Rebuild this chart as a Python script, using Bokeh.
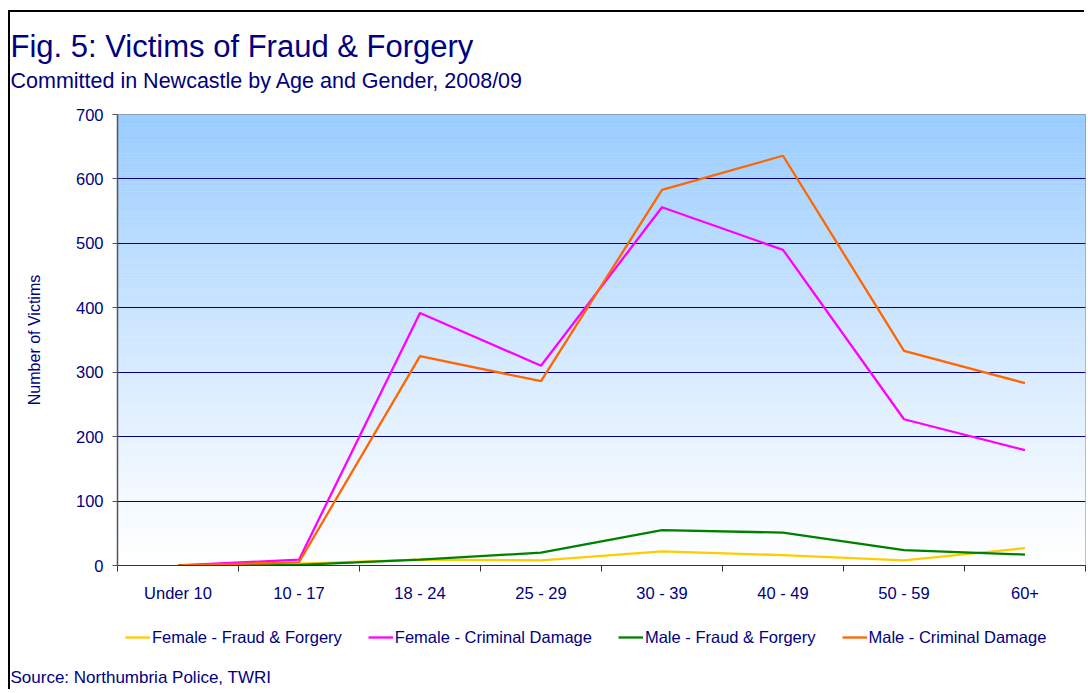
import numpy as np
from bokeh.plotting import figure
from bokeh.layouts import column
from bokeh.models import FixedTicker, Range1d, Legend, LegendItem, Title
from bokeh.embed import file_html
from bokeh.resources import INLINE

categories = ["Under 10", "10 - 17", "18 - 24", "25 - 29", "30 - 39", "40 - 49", "50 - 59", "60+"]
female_fraud = [0, 3, 9, 8, 22, 16, 8, 27]
female_damage = [0, 9, 392, 310, 556, 490, 227, 179]
male_fraud = [0, 1, 9, 20, 55, 51, 24, 17]
male_damage = [0, 5, 325, 286, 583, 636, 333, 283]
y_ticks = [0, 100, 200, 300, 400, 500, 600, 700]

series_names = ["Female - Fraud & Forgery", "Female - Criminal Damage",
                "Male - Fraud & Forgery", "Male - Criminal Damage"]
series_values = [female_fraud, female_damage, male_fraud, male_damage]
series_colors = ["#FFCC00", "#FF00FF", "#008000", "#FF6600"]

FONT = "Liberation Sans"
NAVY = "#000080"

xs = [i + 0.5 for i in range(len(categories))]

W = 1076
FL = 107


def blank(height, top, bottom):
    f = figure(width=W, height=height, output_backend="svg", toolbar_location=None,
               title_location=None, x_axis_type=None, y_axis_type=None,
               x_range=Range1d(0, 1), y_range=Range1d(0, 1),
               min_border_left=FL, min_border_right=1, min_border_top=top,
               min_border_bottom=bottom)
    f.outline_line_color = None
    f.grid.visible = False
    f.background_fill_color = "white"
    f.border_fill_color = "white"
    return f


# ---- header strip: title + subtitle
p0 = blank(87, 51, 33)
p0.add_layout(Title(text="Fig. 5: Victims of Fraud & Forgery", text_font=FONT,
                    text_font_size="31px", text_font_style="normal", text_color=NAVY,
                    align="left", offset=-FL, standoff=0), "above")
p0.add_layout(Title(text="Committed in Newcastle by Age and Gender, 2008/09", text_font=FONT,
                    text_font_size="21.5px", text_font_style="normal", text_color=NAVY,
                    align="left", offset=-FL, standoff=0), "below")

# ---- main chart
H1 = 516
p = figure(width=W, height=H1, output_backend="svg", toolbar_location=None,
           title_location=None, x_range=Range1d(0, len(categories)), y_range=Range1d(0, 700),
           min_border_left=FL, min_border_right=1, min_border_top=15, min_border_bottom=50)
p.background_fill_color = "white"
p.border_fill_color = "white"
p.outline_line_color = "#808080"

# vertical gradient background
n = 140
edges = np.linspace(0, 700, n + 1)
bots = edges[:-1]
tops = edges[1:]
cols = []
for b, t in zip(bots, tops):
    f = ((b + t) / 2 / 700) ** 1.15
    r = int(round(255 - (255 - 153) * f))
    g = int(round(255 - (255 - 204) * f))
    cols.append("#%02x%02x%02x" % (r, g, 255))
p.quad(left=0, right=len(categories), bottom=bots, top=tops, fill_color=cols,
       line_color=cols, line_width=0.6, level="image")

p.ygrid.ticker = FixedTicker(ticks=y_ticks[1:-1])
p.ygrid.grid_line_color = NAVY
p.ygrid.grid_line_width = 1
p.xgrid.visible = False

for vals, c in zip(series_values, series_colors):
    p.line(xs, vals, line_color=c, line_width=2.3)

p.xaxis.ticker = FixedTicker(ticks=xs, minor_ticks=list(range(len(categories) + 1)))
p.xaxis.major_label_overrides = {x: c for x, c in zip(xs, categories)}
p.xaxis.major_tick_out = 0
p.xaxis.major_tick_in = 0
p.xaxis.minor_tick_out = 6
p.xaxis.minor_tick_in = 0
p.xaxis.minor_tick_line_color = "#333333"
p.xaxis.axis_line_color = "#333333"
p.xaxis.major_label_standoff = 12
p.xaxis.major_label_text_font = FONT
p.xaxis.major_label_text_font_size = "16.5px"
p.xaxis.major_label_text_color = NAVY

p.yaxis.ticker = FixedTicker(ticks=y_ticks, minor_ticks=[])
p.yaxis.major_tick_out = 5
p.yaxis.major_tick_in = 0
p.yaxis.major_tick_line_color = "#555555"
p.yaxis.axis_line_color = "#555555"
p.yaxis.axis_line_width = 1.5
p.yaxis.major_label_standoff = 9
p.yaxis.major_label_text_font = FONT
p.yaxis.major_label_text_font_size = "16.5px"
p.yaxis.major_label_text_color = NAVY
p.yaxis.axis_label = "Number of Victims"
p.yaxis.axis_label_text_font = FONT
p.yaxis.axis_label_text_font_size = "16px"
p.yaxis.axis_label_text_font_style = "normal"
p.yaxis.axis_label_text_color = NAVY
p.yaxis.axis_label_standoff = 30

# ---- bottom strip: legend + source
H2 = 76
p2 = blank(H2, 0, 30)
items = []
for name, c in zip(series_names, series_colors):
    # legend-only renderer, placed outside this strip's visible range
    rr = p2.line(x=[-5, -4], y=[-5, -5], line_color=c, line_width=2.3)
    items.append(LegendItem(label=name, renderers=[rr]))

legend = Legend(items=items, orientation="horizontal", location=(8, 14),
                label_text_font=FONT, label_text_font_size="16.5px", label_text_color=NAVY,
                glyph_width=25, glyph_height=20, label_standoff=2, spacing=26, padding=0,
                margin=0, border_line_color=None, background_fill_alpha=0)
p2.add_layout(legend)
p2.add_layout(Title(text="Source: Northumbria Police, TWRI", text_font=FONT,
                    text_font_size="17px", text_font_style="normal", text_color=NAVY,
                    align="left", offset=-FL, standoff=8), "below")

layout = column(p0, p, p2, spacing=0,
                styles={"margin-left": "10px", "margin-top": "12px",
                        "box-shadow": "-2px -2px 0 0 #000000"})

open("out.html", "w").write(file_html(layout, INLINE))
